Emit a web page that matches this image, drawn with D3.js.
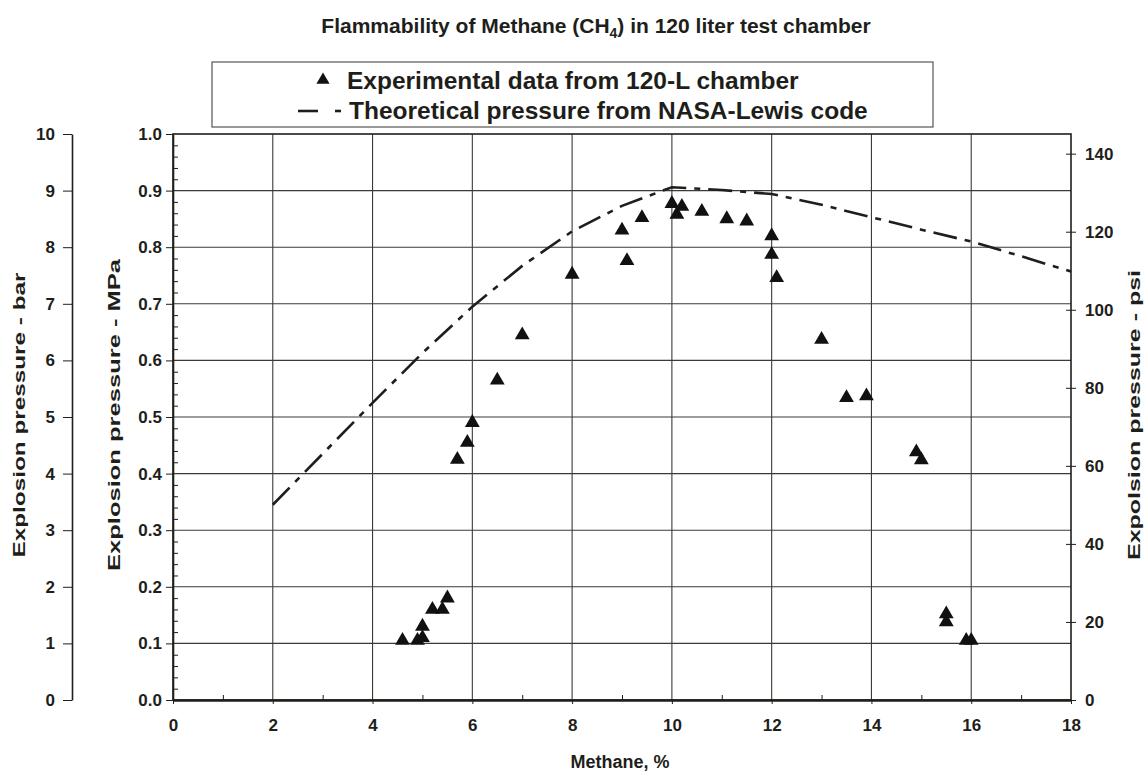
<!DOCTYPE html>
<html>
<head>
<meta charset="utf-8">
<script src="https://cdn.jsdelivr.net/npm/d3@7"></script>
<style>
  html, body { margin: 0; padding: 0; background: #fff; }
  svg { display: block; font-family: "Liberation Sans", Arial, sans-serif; }
</style>
</head>
<body>
<svg id="chart" width="1146" height="774"></svg>
<script>
// Methane concentration (%) and measured explosion pressure (MPa), 120-L chamber
const methanePct = [4.6, 4.9, 5.0, 5.0, 5.2, 5.4, 5.5, 5.7, 5.9, 6.0, 6.5, 7.0, 8.0,
  9.0, 9.1, 9.4, 10.0, 10.1, 10.2, 10.6, 11.1, 11.5, 12.0, 12.0, 12.1,
  13.0, 13.5, 13.9, 14.9, 15.0, 15.5, 15.5, 15.9, 16.0];
const pressureMPa = [0.105, 0.105, 0.11, 0.13, 0.16, 0.16, 0.18, 0.425, 0.455, 0.49, 0.565, 0.645, 0.752,
  0.83, 0.776, 0.852, 0.877, 0.858, 0.872, 0.863, 0.85, 0.846, 0.82, 0.787, 0.746,
  0.637, 0.534, 0.537, 0.438, 0.424, 0.152, 0.138, 0.105, 0.105];

// Theoretical pressure (NASA-Lewis code)
const theoryPct = [2, 3, 4, 5, 6, 7, 8, 9, 10, 11, 12, 13, 14, 15, 16, 17, 18];
const theoryMPa = [0.345, 0.435, 0.525, 0.613, 0.695, 0.767, 0.828, 0.873, 0.906, 0.901, 0.894,
  0.875, 0.853, 0.831, 0.81, 0.784, 0.757];

// Axis ticks
const xTicks = [0, 2, 4, 6, 8, 10, 12, 14, 16, 18];
const mpaTicks = [0, 0.1, 0.2, 0.3, 0.4, 0.5, 0.6, 0.7, 0.8, 0.9, 1.0];
const barTicks = [0, 1, 2, 3, 4, 5, 6, 7, 8, 9, 10];
const psiTicks = [0, 20, 40, 60, 80, 100, 120, 140];

const ink = "#1e1e1a";
const narrow = "'Liberation Sans Narrow', 'Liberation Sans', Arial, sans-serif";
const svg = d3.select("#chart");

const plotL = 173, plotR = 1071, plotT = 134, plotB = 700;
const x = d3.scaleLinear().domain([0, 18]).range([plotL, plotR]);
const y = d3.scaleLinear().domain([0, 1]).range([plotB, plotT]);
const yBar = d3.scaleLinear().domain([0, 10]).range([plotB, plotT]);
const yPsi = d3.scaleLinear().domain([0, 145.038]).range([plotB, plotT]);

// Title
const title = svg.append("text")
  .attr("x", 596).attr("y", 33)
  .attr("text-anchor", "middle")
  .attr("font-size", 21).attr("font-weight", "bold").attr("fill", ink);
title.append("tspan").text("Flammability of Methane (CH");
title.append("tspan").attr("font-size", 14).attr("dy", 5).text("4");
title.append("tspan").attr("dy", -5).text(") in 120 liter test chamber");

// Grid
const grid = svg.append("g").attr("stroke", "#3a3a36").attr("stroke-width", 1.1);
grid.selectAll("line.h").data(mpaTicks.slice(1, -1)).join("line").attr("class", "h")
  .attr("x1", plotL).attr("x2", plotR)
  .attr("y1", d => y(d)).attr("y2", d => y(d));
grid.selectAll("line.v").data(xTicks.slice(1, -1)).join("line").attr("class", "v")
  .attr("y1", plotT).attr("y2", plotB)
  .attr("x1", d => x(d)).attr("x2", d => x(d));

// Frame
svg.append("rect")
  .attr("x", plotL).attr("y", plotT)
  .attr("width", plotR - plotL).attr("height", plotB - plotT)
  .attr("fill", "none").attr("stroke", ink).attr("stroke-width", 1.6);

function styleAxis(g) {
  g.selectAll("path, line").attr("stroke", ink);
  g.selectAll("text").attr("fill", ink).attr("font-weight", "bold")
    .attr("font-family", "'Liberation Sans', Arial, sans-serif");
}

// MPa axis (left of plot)
svg.append("g").attr("transform", `translate(${plotL},0)`)
  .call(d3.axisLeft(y).tickValues(mpaTicks).tickFormat(d3.format(".1f"))
    .tickSizeInner(7).tickSizeOuter(0).tickPadding(4))
  .call(styleAxis)
  .call(g => g.select(".domain").attr("stroke-width", 1.6))
  .call(g => g.selectAll("text").attr("font-size", 17));
// MPa minor ticks, inside
svg.append("g").attr("transform", `translate(${plotL},0)`)
  .call(d3.axisRight(y).tickValues(d3.range(0, 50).map(i => i * 0.02).filter((d, i) => i % 5 !== 0))
    .tickSize(5).tickFormat(""))
  .call(g => g.select(".domain").remove())
  .call(styleAxis);

// Bar axis (far left)
svg.append("g").attr("transform", "translate(72,0)")
  .call(d3.axisLeft(yBar).tickValues(barTicks).tickFormat(d3.format("d"))
    .tickSizeInner(9).tickSizeOuter(0).tickPadding(8))
  .call(styleAxis)
  .call(g => g.select(".domain").attr("stroke-width", 1.6))
  .call(g => g.selectAll("text").attr("font-size", 17));

// Psi axis (right)
svg.append("g").attr("transform", `translate(${plotR},0)`)
  .call(d3.axisRight(yPsi).tickValues(psiTicks).tickFormat(d3.format("d"))
    .tickSizeInner(5).tickSizeOuter(0).tickPadding(9))
  .call(styleAxis)
  .call(g => g.select(".domain").remove())
  .call(g => g.selectAll(".tick line").attr("x1", -5))
  .call(g => g.selectAll("text").attr("font-size", 17));

// X axis
svg.append("g").attr("transform", `translate(0,${plotB})`)
  .call(d3.axisBottom(x).tickValues(xTicks).tickFormat(d3.format("d"))
    .tickSizeInner(4).tickSizeOuter(0).tickPadding(15))
  .call(styleAxis)
  .call(g => g.select(".domain").attr("stroke-width", 2.4))
  .call(g => g.selectAll("text").attr("font-size", 17).attr("font-family", narrow));
// odd-value minor ticks on x, inside
svg.append("g").attr("transform", `translate(0,${plotB})`)
  .call(d3.axisTop(x).tickValues([1, 3, 5, 7, 9, 11, 13, 15, 17]).tickSize(5).tickFormat(""))
  .call(g => g.select(".domain").remove())
  .call(styleAxis);

// Axis titles (rotated, drawn elongated along their reading direction)
function sideTitle(cx, cy, len, label) {
  svg.append("text").attr("transform", `translate(${cx},${cy}) rotate(-90)`)
    .attr("text-anchor", "middle").attr("font-size", 17).attr("font-weight", "bold").attr("fill", ink)
    .attr("textLength", len).attr("lengthAdjust", "spacingAndGlyphs")
    .text(label);
}
sideTitle(25, 415, 285, "Explosion pressure - bar");
sideTitle(120, 415, 312, "Explosion pressure - MPa");
sideTitle(1140, 415, 290, "Expolsion pressure - psi");

svg.append("text").attr("x", 620).attr("y", 768)
  .attr("text-anchor", "middle").attr("font-size", 18).attr("font-weight", "bold")
  .attr("font-family", narrow).attr("fill", ink)
  .text("Methane,  %");

// Theoretical curve
svg.append("path")
  .datum(theoryPct.map((d, i) => [d, theoryMPa[i]]))
  .attr("fill", "none").attr("stroke", ink).attr("stroke-width", 2.6)
  .attr("stroke-dasharray", "24,8,6,8")
  .attr("d", d3.line().x(d => x(d[0])).y(d => y(d[1])));

// Experimental points
const tri = d3.symbol().type(d3.symbolTriangle).size(95);
svg.append("g").selectAll("path")
  .data(methanePct.map((d, i) => [d, pressureMPa[i]]))
  .join("path")
  .attr("d", tri)
  .attr("fill", "#111")
  .attr("transform", d => `translate(${x(d[0])},${y(d[1])})`);

// Legend
const lg = svg.append("g");
lg.append("rect").attr("x", 212).attr("y", 62).attr("width", 721).attr("height", 65)
  .attr("fill", "#fff").attr("stroke", "#55554f").attr("stroke-width", 1.2);
lg.append("path").attr("d", d3.symbol().type(d3.symbolTriangle).size(75))
  .attr("fill", "#111").attr("transform", "translate(323,80)");
lg.append("text").attr("x", 347).attr("y", 89).attr("font-size", 24.5).attr("font-weight", "bold")
  .attr("fill", ink).text("Experimental data from 120-L chamber");
lg.append("line").attr("x1", 298).attr("x2", 318).attr("y1", 111).attr("y2", 111)
  .attr("stroke", ink).attr("stroke-width", 2.6);
lg.append("line").attr("x1", 335).attr("x2", 341).attr("y1", 111).attr("y2", 111)
  .attr("stroke", ink).attr("stroke-width", 2.6);
lg.append("text").attr("x", 349).attr("y", 119).attr("font-size", 24.5).attr("font-weight", "bold")
  .attr("fill", ink).text("Theoretical pressure from NASA-Lewis code");
</script>
</body>
</html>
